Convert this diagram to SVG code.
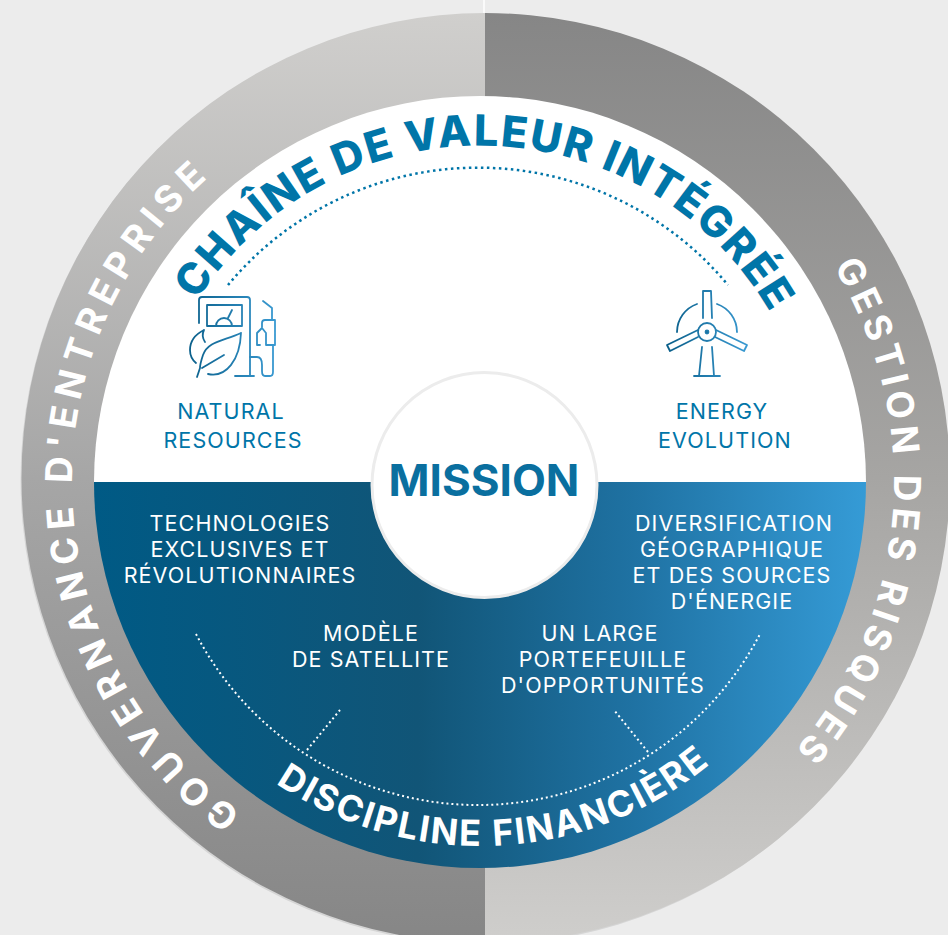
<svg xmlns="http://www.w3.org/2000/svg" xmlns:xlink="http://www.w3.org/1999/xlink" width="948" height="935" viewBox="0 0 948 935">
<style>
.t{font-family:"Inter","Open Sans","Liberation Sans",sans-serif}
.lab{font-size:21.5px;letter-spacing:1.1px;text-anchor:middle}
.w{fill:#fff}
.b{fill:#0075a8}
.band{font-size:37px;font-weight:700;fill:#fff;text-anchor:middle}
.ic{fill:none;stroke-width:1.8;stroke-linecap:round;stroke-linejoin:round}
.dot{fill:none}
.db{stroke:#0075a8;stroke-width:2.5;stroke-dasharray:2.500 3.500}
.dw{stroke:#fff;stroke-width:2;stroke-dasharray:2 3}
</style>
<defs>
<linearGradient id="gl" gradientUnits="userSpaceOnUse" x1="0" y1="13" x2="0" y2="943"><stop offset="0" stop-color="#d0cfcd"/><stop offset="0.5" stop-color="#a6a6a6"/><stop offset="1" stop-color="#868686"/></linearGradient>
<linearGradient id="gr" gradientUnits="userSpaceOnUse" x1="0" y1="13" x2="0" y2="943"><stop offset="0" stop-color="#868686"/><stop offset="0.5" stop-color="#a6a5a3"/><stop offset="1" stop-color="#cfcecc"/></linearGradient>
<linearGradient id="gb" gradientUnits="userSpaceOnUse" x1="94" y1="0" x2="866" y2="0"><stop offset="0" stop-color="#005a85"/><stop offset="0.42" stop-color="#115577"/><stop offset="0.7" stop-color="#1f72a3"/><stop offset="1" stop-color="#359bd6"/></linearGradient>
<linearGradient id="gi1" gradientUnits="userSpaceOnUse" x1="188" y1="0" x2="276" y2="0"><stop offset="0" stop-color="#0a5f8a"/><stop offset="1" stop-color="#3a9ad2"/></linearGradient>
<linearGradient id="gi2" gradientUnits="userSpaceOnUse" x1="668" y1="0" x2="747" y2="0"><stop offset="0" stop-color="#0a5f8a"/><stop offset="1" stop-color="#3a9ad2"/></linearGradient>
<path id="p1" d="M198,299 A336,336 0 0 1 770,312"/>
<path id="p2" d="M835.200,269.400 A414,414 0 0 1 794.200,751.500"/>
<path id="p3" d="M235.600,808.700 A408,408 0 0 1 207.500,178.400"/>
<path id="p4" d="M276.500,783.800 A364,364 0 0 0 710.500,763.700"/>
</defs>
<rect width="948" height="935" fill="#ececec"/>
<line x1="484" y1="0" x2="484" y2="13" stroke="#fff" stroke-width="1.5"/>
<g id="ring">
<ellipse cx="484" cy="479.500" rx="463.500" ry="465" fill="#d5d5d5"/>
<path d="M485,13 A463.500,465 0 0 0 485,943 Z" fill="url(#gl)"/>
<path d="M485,13 A465,465 0 0 1 485,943 Z" fill="url(#gr)"/>
</g>
<g id="upper">
<path d="M94,482 A386,386 0 0 1 866,482 Z" fill="#fff"/>
</g>
<g id="lower">
<path d="M94,482 A386,386 0 0 0 866,482 Z" fill="url(#gb)"/>
</g>
<g id="connectors">
<path class="dot db" d="M228,285 A325,325 0 0 1 728,285"/>
<path class="dot dw" d="M196,634 A318,318 0 0 0 760,634"/>
<path class="dot dw" d="M307,750 L340,710"/>
<path class="dot dw" d="M648,752 L614,710"/>
</g>
<g id="mission">
<circle cx="484.500" cy="485" r="112.500" fill="#fff" stroke="#ececec" stroke-width="3"/>
<text class="t" x="484" y="496" font-size="44" font-weight="700" fill="#0a6f9f" text-anchor="middle">MISSION</text>
</g>
<g id="chaine">
<text class="t" font-size="43" font-weight="800" fill="#0075a8" text-anchor="middle" letter-spacing="1.900"><textPath xlink:href="#p1" href="#p1" startOffset="50%">CHAÎNE DE VALEUR INTÉGRÉE</textPath></text>
</g>
<g id="gestion"><text class="t band" letter-spacing="5.500"><textPath xlink:href="#p2" href="#p2" startOffset="50%">GESTION DES RISQUES</textPath></text></g>
<g id="gouvernance"><text class="t band" letter-spacing="7"><textPath xlink:href="#p3" href="#p3" startOffset="50%">GOUVERNANCE D'ENTREPRISE</textPath></text></g>
<g id="discipline"><text class="t" font-size="36" font-weight="700" fill="#fff" text-anchor="middle" letter-spacing="2"><textPath xlink:href="#p4" href="#p4" startOffset="50%">DISCIPLINE FINANCIÈRE</textPath></text></g>
<g id="natural-resources">
<g class="ic" stroke="url(#gi1)">
<path d="M199,323 V300 Q199,297 202,297 H247 Q250,297 250,300 V375"/>
<rect x="207" y="305" width="35" height="21"/>
<path d="M216,326 A8,8 0 0 1 232,326 M228,318 L232,310"/>
<path d="M241,333 C224,341 208,341 203,355 Q200,364 200,368 L197,377 M241,333 C240,360 226,378 208,374 M224,355 L202,368"/>
<path d="M204,330 C194,335 190,343 190,350 Q190,358 196,363 M204,330 Q201,336 205,342"/>
<path d="M235,376 H254 M250,357 H257 Q262,357 262,365 V371 Q262,376 265,376 H270 Q273,376 273,372 V345"/>
<path d="M263,301 L272,308 V320 M262,327 V323 Q262,320 265,320 H275 V345 H267 M260,345 H257 V333 L262,328 L266,333 V345"/>
</g>
<text class="t lab b" x="231" y="419">NATURAL</text>
<text class="t lab b" x="233" y="448">RESOURCES</text>
</g>
<g id="energy-evolution">
<g class="ic" stroke="url(#gi2)">
<path d="M703,318 V291 H711 L712,318 M702,347 L699,376 M712,347 L714,376 M694,376 H720"/>
<circle cx="707" cy="332" r="9"/>
<circle cx="707" cy="332" r="1.500" fill="#0a5f8a"/>
<path d="M698,330 L667,345 L670,351 L698,337 M716,330 L747,345 L744,351 L715,337"/>
<path d="M677,332 A30,30 0 0 1 697,304 M717,304 A30,30 0 0 1 737,332"/>
</g>
<text class="t lab b" x="722" y="419">ENERGY</text>
<text class="t lab b" x="725" y="448">EVOLUTION</text>
</g>
<g id="technologies">
<text class="t lab w" x="240" y="531">TECHNOLOGIES</text>
<text class="t lab w" x="240" y="557">EXCLUSIVES ET</text>
<text class="t lab w" x="240" y="583">RÉVOLUTIONNAIRES</text>
</g>
<g id="diversification">
<text class="t lab w" x="734" y="531">DIVERSIFICATION</text>
<text class="t lab w" x="732" y="557">GÉOGRAPHIQUE</text>
<text class="t lab w" x="732" y="583">ET DES SOURCES</text>
<text class="t lab w" x="732" y="609">D'ÉNERGIE</text>
</g>
<g id="modele">
<text class="t lab w" x="371" y="641">MODÈLE</text>
<text class="t lab w" x="371" y="667">DE SATELLITE</text>
</g>
<g id="portefeuille">
<text class="t lab w" x="600" y="641">UN LARGE</text>
<text class="t lab w" x="603" y="667">PORTEFEUILLE</text>
<text class="t lab w" x="603" y="693">D'OPPORTUNITÉS</text>
</g>
</svg>
